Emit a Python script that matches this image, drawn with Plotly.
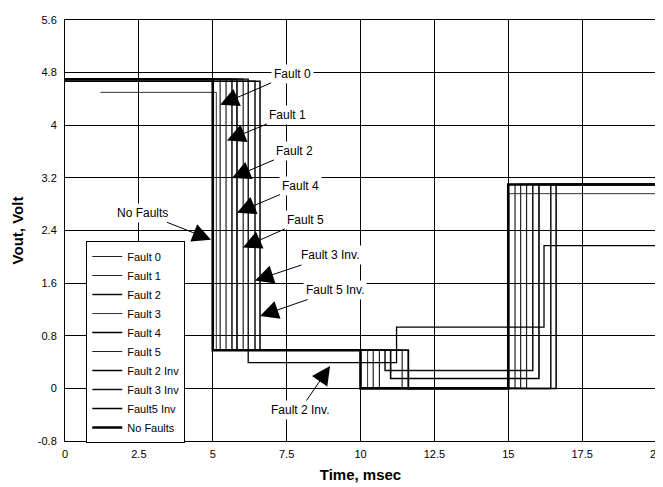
import plotly.graph_objects as go

# ---- data ----
series_names = ["Fault 0", "Fault 1", "Fault 2", "Fault 3", "Fault 4", "Fault 5",
                "Fault 2 Inv", "Fault 3 Inv", "Fault5 Inv", "No Faults"]

fault0_t = [0, 5.25, 10.43, 15.23, 20]
fault0_v = [4.70, 0.58, 0.0, 3.10, 3.10]
fault1_t = [0, 5.45, 10.64, 15.42, 20]
fault1_v = [4.70, 0.58, 0.0, 3.10, 3.10]
fault2_t = [0, 5.65, 10.83, 15.83, 20]
fault2_v = [4.70, 0.58, 0.27, 3.10, 3.10]
fault3_t = [1.2, 5.12, 10.24, 15.02, 20]
fault3_v = [4.50, 0.58, 0.0, 2.96, 2.96]
fault4_t = [0, 5.82, 11.02, 16.04, 20]
fault4_v = [4.70, 0.58, 0.15, 3.10, 3.10]
fault5_t = [0, 6.03, 11.41, 15.62, 20]
fault5_v = [4.70, 0.58, 0.0, 3.10, 3.10]
fault2inv_t = [0, 6.20, 11.22, 16.21, 20]
fault2inv_v = [4.70, 0.39, 0.93, 2.17, 2.17]
fault3inv_t = [0, 6.43, 11.62, 16.44, 20]
fault3inv_v = [4.67, 0.58, 0.0, 3.10, 3.10]
fault5inv_t = [0, 6.60, 11.62, 16.62, 20]
fault5inv_v = [4.67, 0.58, 0.0, 3.10, 3.10]
nofaults_t = [0, 5.0, 10.0, 15.0, 20]
nofaults_v = [4.70, 0.58, 0.0, 3.10, 3.10]

x_ticks = [0, 2.5, 5, 7.5, 10, 12.5, 15, 17.5, 20]
x_labels = ["0", "2.5", "5", "7.5", "10", "12.5", "15", "17.5", "20"]
y_ticks = [-0.8, 0, 0.8, 1.6, 2.4, 3.2, 4, 4.8, 5.6]
y_labels = ["-0.8", "0", "0.8", "1.6", "2.4", "3.2", "4", "4.8", "5.6"]

# annotation labels: (text, arrow tip x, arrow tip y)
ann_text = ["Fault 0", "Fault 1", "Fault 2", "Fault 4", "Fault 5",
            "Fault 3 Inv.", "Fault 5 Inv.", "No Faults", "Fault 2 Inv."]
ann_tip_x = [5.25, 5.48, 5.65, 5.82, 6.02, 6.43, 6.60, 4.94, 8.97]
ann_tip_y = [4.31, 3.77, 3.20, 2.67, 2.14, 1.64, 1.10, 2.26, 0.34]

# ---- styling ----
all_t = [fault0_t, fault1_t, fault2_t, fault3_t, fault4_t, fault5_t,
         fault2inv_t, fault3inv_t, fault5inv_t, nofaults_t]
all_v = [fault0_v, fault1_v, fault2_v, fault3_v, fault4_v, fault5_v,
         fault2inv_v, fault3inv_v, fault5inv_v, nofaults_v]
colors = ["#222222", "#222222", "#111111", "#333333", "#000000", "#222222",
          "#000000", "#111111", "#000000", "#000000"]
widths = [1.2, 1.2, 1.5, 1.0, 1.6, 1.2, 1.3, 1.5, 1.5, 2.6]
ann_ax = [72, 61, 63, 64, 63, 75, 75, -68, -30]
ann_ay = [-31, -25, -27, -27, -28, -25, -26, -27, 44]

fig = go.Figure()
for name, t, v, c, w in zip(series_names, all_t, all_v, colors, widths):
    fig.add_trace(go.Scatter(x=t, y=v, mode="lines", name=name,
                             line=dict(color=c, width=w, shape="hv")))

for txt, tx, ty, ax, ay in zip(ann_text, ann_tip_x, ann_tip_y, ann_ax, ann_ay):
    fig.add_annotation(x=tx, y=ty, xref="x", yref="y", text=txt,
                       showarrow=True, arrowhead=2, arrowsize=3.7, arrowwidth=1,
                       arrowcolor="black", ax=ax, ay=ay,
                       font=dict(family="Arial", size=12, color="black"),
                       bgcolor="white", borderpad=2)

# the page adds an 8px body margin, so the figure is sized to fit inside it
fig.update_layout(
    width=655, height=479,
    margin=dict(l=57, r=7, t=12, b=46),
    paper_bgcolor="white", plot_bgcolor="white",
    font=dict(family="Arial", color="black"),
    showlegend=True,
    legend=dict(x=0.036, y=0.475, xanchor="left", yanchor="top",
                bgcolor="white", bordercolor="black", borderwidth=1,
                font=dict(family="Arial", size=11, color="black"),
                tracegroupgap=0),
)
fig.update_xaxes(range=[0, 20], tickvals=x_ticks, ticktext=x_labels,
                 automargin=False, ticklabelstandoff=3,
                 showgrid=True, gridcolor="black", gridwidth=1,
                 showline=True, linecolor="black", linewidth=1, mirror=True,
                 zeroline=False, ticks="", tickfont=dict(size=11),
                 title=dict(text="<b>Time, msec</b>", font=dict(size=15), standoff=10))
fig.update_yaxes(range=[-0.8, 5.6], tickvals=y_ticks, ticktext=y_labels,
                 automargin=False, ticklabelstandoff=5,
                 showgrid=True, gridcolor="black", gridwidth=1,
                 showline=True, linecolor="black", linewidth=1, mirror=True,
                 zeroline=False, ticks="", tickfont=dict(size=11),
                 title=dict(text="<b>Vout, Volt</b>", font=dict(size=15), standoff=10))

fig.write_html("out.html")
